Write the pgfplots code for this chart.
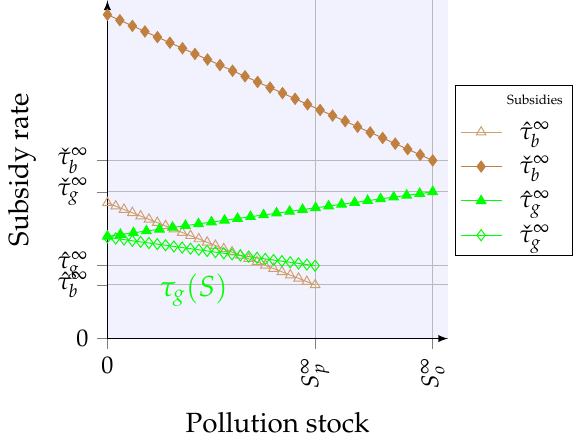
\documentclass[border=0pt]{standalone}
\usepackage[T1]{fontenc}
\usepackage{mathpazo}
\usepackage{pgfplots}
\pgfplotsset{compat=1.18}
\usepackage{amsmath}

\begin{document}
\begin{tikzpicture}
\begin{axis}[
  scale only axis,
  width=141pt, height=140pt,
  xmin=0, xmax=336, ymin=0, ymax=334,
  axis lines=left,
  axis line style={-latex},
  axis background/.style={fill=blue!5},
  clip=false,
  grid=major,
  grid style={gray!55},
  tick align=outside,
  tick style={gray},
  xtick={0,205,321},
  xticklabels={\raisebox{-3pt}{$0$},\rotatebox{90}{$S_p^\infty$},\rotatebox{90}{$S_o^\infty$}},
  xticklabel style={anchor=north},
  ytick={0,53,72,145,176},
  yticklabels={$0$,$\hat\tau_b^\infty$,$\hat\tau_g^\infty$,$\check\tau_g^\infty$,$\check\tau_b^\infty$},
  xlabel={Pollution stock},
  ylabel={Subsidy rate},
  xlabel style={font=\fontsize{11.5}{13}\selectfont, yshift=-3pt},
  ylabel style={font=\fontsize{11.5}{13}\selectfont, yshift=2pt},
  legend style={at={(1.02,0.75)}, anchor=north west, draw=black, fill=white,
    font=\fontsize{5.5}{7}\selectfont, row sep=1.5pt, inner xsep=2pt},
  legend cell align=center,
  mark size=2.3pt,
]
\addlegendimage{empty legend}
\addlegendentry{Subsidies}

\addplot[brown!75, mark=triangle, mark options={solid}] coordinates {
(0,134) (8.2,130.8) (16.4,127.5) (24.6,124.3) (32.8,121.0) (41,117.8)
(49.2,114.6) (57.4,111.3) (65.6,108.1) (73.8,104.8) (82,101.6) (90.2,98.4)
(98.4,95.1) (106.6,91.9) (114.8,88.6) (123,85.4) (131.2,82.2) (139.4,78.9)
(147.6,75.7) (155.8,72.4) (164,69.2) (172.2,66.0) (180.4,62.7) (188.6,59.5)
(196.8,56.2) (205,53)};
\addlegendentry{\normalsize$\hat\tau_b^\infty$}

\addplot[brown, mark=diamond*] coordinates {
(0,320) (12.3,314.5) (24.7,308.9) (37.0,303.4) (49.4,297.8) (61.7,292.3)
(74.1,286.8) (86.4,281.2) (98.8,275.7) (111.1,270.2) (123.5,264.6) (135.8,259.1)
(148.2,253.5) (160.5,248.0) (172.8,242.5) (185.2,236.9) (197.5,231.4) (209.9,225.8)
(222.2,220.3) (234.6,214.8) (246.9,209.2) (259.3,203.7) (271.6,198.2) (284.0,192.6)
(296.3,187.1) (308.7,181.5) (321,176)};
\addlegendentry{\normalsize$\check\tau_b^\infty$}

\addplot[green, mark=triangle*] coordinates {
(0,101) (12.8,102.8) (25.7,104.5) (38.5,106.3) (51.4,108.0) (64.2,109.8)
(77.0,111.6) (89.9,113.3) (102.7,115.1) (115.6,116.8) (128.4,118.6) (141.2,120.4)
(154.1,122.1) (166.9,123.9) (179.8,125.6) (192.6,127.4) (205.4,129.2) (218.3,130.9)
(231.1,132.7) (244.0,134.4) (256.8,136.2) (269.6,138.0) (282.5,139.7) (295.3,141.5)
(308.2,143.2) (321,145)};
\addlegendentry{\normalsize$\hat\tau_g^\infty$}

\addplot[green, mark=diamond] coordinates {
(0,100) (8.2,98.9) (16.4,97.8) (24.6,96.6) (32.8,95.5) (41,94.4)
(49.2,93.3) (57.4,92.2) (65.6,91.0) (73.8,89.9) (82,88.8) (90.2,87.7)
(98.4,86.6) (106.6,85.4) (114.8,84.3) (123,83.2) (131.2,82.1) (139.4,81.0)
(147.6,79.8) (155.8,78.7) (164,77.6) (172.2,76.5) (180.4,75.4) (188.6,74.2)
(196.8,73.1) (205,72)};
\addlegendentry{\normalsize$\check\tau_g^\infty$}

\node[text=green, font=\large] at (axis cs:85,48) {$\tau_g(S)$};
\end{axis}
\end{tikzpicture}
\end{document}
